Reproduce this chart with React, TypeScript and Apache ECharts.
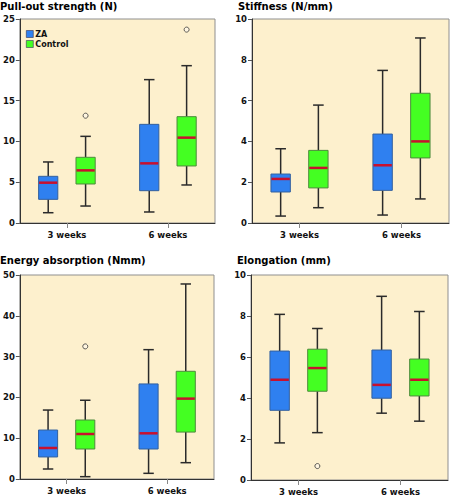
import React, { useEffect, useRef } from 'react';
import * as echarts from 'echarts';

// ---------- data ----------
const categories = ['3 weeks', '6 weeks'];
const groupNames = ['ZA', 'Control'];

// each row: [low whisker, Q1, median, Q3, high whisker], one row per category
const pullZA = [[1.26, 2.9, 4.94, 5.72, 7.48], [1.35, 3.96, 7.31, 12.09, 17.57]];
const pullCtrl = [[2.08, 4.78, 6.45, 8.05, 10.62], [4.66, 6.99, 10.46, 13.03, 19.28]];
const pullOutZA: number[][] = [[], []];
const pullOutCtrl = [[13.15], [23.7]];

const stiffZA = [[0.34, 1.52, 2.16, 2.4, 3.64], [0.39, 1.6, 2.83, 4.36, 7.48]];
const stiffCtrl = [[0.75, 1.72, 2.7, 3.56, 5.78], [1.18, 3.19, 4.0, 6.36, 9.07]];
const stiffOutZA: number[][] = [[], []];
const stiffOutCtrl: number[][] = [[], []];

const energyZA = [[2.45, 5.4, 7.6, 12.0, 16.9], [1.39, 7.35, 11.2, 23.3, 31.7]];
const energyCtrl = [[0.57, 7.35, 11.03, 14.46, 19.3], [4.0, 11.5, 19.7, 26.4, 47.8]];
const energyOutZA: number[][] = [[], []];
const energyOutCtrl = [[32.5], []];

const elongZA = [[1.81, 3.4, 4.89, 6.29, 8.08], [3.26, 3.99, 4.64, 6.34, 8.96]];
const elongCtrl = [[2.31, 4.33, 5.46, 6.38, 7.39], [2.87, 4.1, 4.89, 5.9, 8.22]];
const elongOutZA: number[][] = [[], []];
const elongOutCtrl = [[0.68], []];

const titles = ['Pull-out strength (N)', 'Stiffness (N/mm)', 'Energy absorption (Nmm)', 'Elongation (mm)'];
const yMax = [25, 10, 50, 10];
const yStep = [5, 2, 10, 2];

// ---------- layout / style ----------
const FONT = 'DejaVu Sans';
const BG = '#FDF0CD';
const ZA_COLOR = '#2F80F0';
const CTRL_COLOR = '#44FF22';
const ZA_BORDER = '#33609e';
const CTRL_BORDER = '#4d8a3c';
const MEDIAN = '#C8102E';
const WHISKER = '#2a2a2a';
const GROUP_OFFSET = 0.185; // in category units

const grids = [
  { left: 16, top: 19, width: 199, height: 204 },
  { left: 252, top: 19, width: 197, height: 204 },
  { left: 16, top: 275, width: 198, height: 204 },
  { left: 251, top: 275, width: 197, height: 205 },
];
const titlePos = [
  { left: 0, top: 1 },
  { left: 238, top: 1 },
  { left: 0, top: 255 },
  { left: 237, top: 255 },
];

const panels = [
  { za: pullZA, ctrl: pullCtrl, outZA: pullOutZA, outCtrl: pullOutCtrl },
  { za: stiffZA, ctrl: stiffCtrl, outZA: stiffOutZA, outCtrl: stiffOutCtrl },
  { za: energyZA, ctrl: energyCtrl, outZA: energyOutZA, outCtrl: energyOutCtrl },
  { za: elongZA, ctrl: elongCtrl, outZA: elongOutZA, outCtrl: elongOutCtrl },
];

function makeRender(border: string) {
  return (params: any, api: any) => {
    const x = api.value(0);
    const lo = api.coord([x, api.value(1)]);
    const q1 = api.coord([x, api.value(2)]);
    const md = api.coord([x, api.value(3)]);
    const q3 = api.coord([x, api.value(4)]);
    const hi = api.coord([x, api.value(5)]);
    const unit = api.size([1, 0])[0];
    const hw = unit * 0.095;
    const cw = unit * 0.052;
    const cx = lo[0];
    const fill = api.visual('color');
    const ls = { stroke: WHISKER, lineWidth: 1.5 };
    return {
      type: 'group',
      children: [
        { type: 'line', shape: { x1: cx, y1: hi[1], x2: cx, y2: q3[1] }, style: ls },
        { type: 'line', shape: { x1: cx, y1: q1[1], x2: cx, y2: lo[1] }, style: ls },
        { type: 'line', shape: { x1: cx - cw, y1: hi[1], x2: cx + cw, y2: hi[1] }, style: ls },
        { type: 'line', shape: { x1: cx - cw, y1: lo[1], x2: cx + cw, y2: lo[1] }, style: ls },
        {
          type: 'rect',
          shape: { x: cx - hw, y: q3[1], width: 2 * hw, height: q1[1] - q3[1] },
          style: { fill, stroke: border, lineWidth: 1 },
        },
        {
          type: 'line',
          shape: { x1: cx - hw + 0.5, y1: md[1], x2: cx + hw - 0.5, y2: md[1] },
          style: { stroke: MEDIAN, lineWidth: 2.5 },
        },
      ],
    };
  };
}

function buildOption() {
  const xAxis: any[] = [];
  const yAxis: any[] = [];
  const series: any[] = [];
  panels.forEach((p, i) => {
    xAxis.push({
      type: 'value',
      gridIndex: i,
      min: 0.534,
      max: 2.466,
      splitLine: { show: false },
      axisLine: { show: true, lineStyle: { color: '#333', width: 1 } },
      axisTick: { show: true, length: 5, customValues: [1, 2], lineStyle: { color: '#888' } },
      axisLabel: {
        customValues: [1, 2],
        formatter: (v: number) => categories[Math.round(v) - 1] || '',
        fontFamily: FONT,
        fontWeight: 'bold',
        fontSize: 8.5,
        color: '#111',
        margin: 7,
      },
    });
    yAxis.push({
      type: 'value',
      gridIndex: i,
      min: 0,
      max: yMax[i],
      interval: yStep[i],
      splitLine: { show: false },
      axisLine: { show: true, lineStyle: { color: '#333', width: 1 } },
      axisTick: { show: true, length: 4, lineStyle: { color: '#555' } },
      axisLabel: { fontFamily: FONT, fontWeight: 'bold', fontSize: 8.5, color: '#111', margin: 5 },
    });
    const groups = [
      { name: groupNames[0], rows: p.za, outs: p.outZA, color: ZA_COLOR, border: ZA_BORDER, off: -GROUP_OFFSET },
      { name: groupNames[1], rows: p.ctrl, outs: p.outCtrl, color: CTRL_COLOR, border: CTRL_BORDER, off: GROUP_OFFSET },
    ];
    groups.forEach((g) => {
      series.push({
        type: 'custom',
        name: g.name,
        xAxisIndex: i,
        yAxisIndex: i,
        itemStyle: { color: g.color, borderColor: g.border, borderWidth: 1 },
        encode: { x: 0, y: [1, 2, 3, 4, 5] },
        renderItem: makeRender(g.border),
        data: g.rows.map((r, ci) => [ci + 1 + g.off, ...r]),
        z: 2,
      });
      const outData: number[][] = [];
      g.outs.forEach((vals, ci) => vals.forEach((v) => outData.push([ci + 1 + g.off, v])));
      if (outData.length) {
        series.push({
          type: 'scatter',
          xAxisIndex: i,
          yAxisIndex: i,
          symbol: 'circle',
          symbolSize: 5,
          itemStyle: { color: '#FFF8E6', borderColor: '#333', borderWidth: 1 },
          data: outData,
          z: 3,
        });
      }
    });
  });

  return {
    animation: false,
    backgroundColor: '#ffffff',
    title: titles.map((t, i) => ({
      text: t,
      left: titlePos[i].left,
      top: titlePos[i].top,
      padding: 0,
      textStyle: { fontFamily: FONT, fontWeight: 'bold', fontSize: 10, color: '#000' },
    })),
    legend: {
      data: groupNames,
      orient: 'vertical',
      left: 26,
      top: 30,
      padding: 0,
      itemWidth: 7,
      itemHeight: 7,
      itemGap: 2,
      icon: 'rect',
      selectedMode: false,
      itemStyle: { borderColor: '#335', borderWidth: 0.6 },
      textStyle: { fontFamily: FONT, fontWeight: 'bold', fontSize: 8, color: '#111', padding: [0, 0, 0, -3] },
    },
    grid: grids.map((g) => ({
      ...g,
      show: true,
      backgroundColor: BG,
      borderColor: '#8f8f8f',
      borderWidth: 1,
      containLabel: false,
    })),
    xAxis,
    yAxis,
    series,
  };
}

export default function App() {
  const ref = useRef<HTMLDivElement>(null);
  useEffect(() => {
    if (!ref.current) return;
    const chart = echarts.init(ref.current, undefined, { renderer: 'svg' });
    chart.setOption(buildOption() as any);
    return () => chart.dispose();
  }, []);
  return (
    <div
      ref={ref}
      style={{ position: 'absolute', left: 0, top: 0, width: 451, height: 496 }}
    />
  );
}
